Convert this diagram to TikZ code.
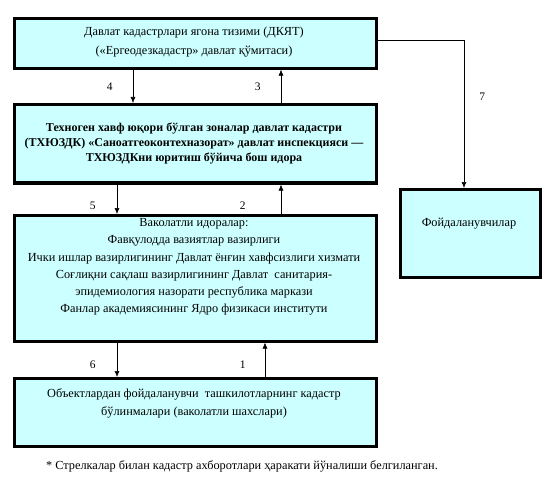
\documentclass[tikz,border=0pt]{standalone}
\usepackage{fontspec}
\setmainfont{Liberation Serif}
\usepackage{tikz}
\usetikzlibrary{arrows.meta}
\definecolor{kok}{RGB}{204,255,255}
\tikzstyle{blok} = [rectangle,draw=black,line width=2.6pt,fill=kok,inner sep=0pt,anchor=north west]
\tikzstyle{matn} = [align=center,inner sep=0pt,anchor=north,font=\fontsize{12.3}{18.5}\selectfont]
\tikzstyle{qalin} = [align=center,inner sep=0pt,anchor=north,font=\bfseries\fontsize{12}{15}\selectfont]
\tikzstyle{raqam} = [inner sep=1pt,font=\fontsize{11.5}{13}\selectfont]
\tikzstyle{strelka} = [line width=0.6pt,-{Latex[length=6pt,width=5pt]}]

\begin{document}
\begin{tikzpicture}[x=1pt,y=-1pt]
\useasboundingbox (0,0) rectangle (552,487);

\node (dkyat) [blok, minimum width=362, minimum height=50] at (13,17) {};
\node (txyuzdk) [blok, minimum width=362, minimum height=79] at (13,103) {};
\node (idora) [blok, minimum width=362, minimum height=126] at (13,214) {};
\node (obekt) [blok, minimum width=362, minimum height=68] at (13,377) {};
\node (foyda) [blok, minimum width=140, minimum height=88] at (399,188) {};
% thin inner line at the bottom of the second box
\draw[line width=0.6pt] ([yshift=3.5]txyuzdk.south west) -- ([yshift=3.5]txyuzdk.south east);

\node (dkyat-t) [matn] at (194,27) {Давлат кадастрлари ягона тизими (ДКЯТ)\\(«Ергеодезкадастр» давлат қўмитаси)};
\node (txyuzdk-t) [qalin] at (194,123) {Техноген хавф юқори бўлган зоналар давлат кадастри\\(ТХЮЗДК) «Саноатгеоконтехназорат» давлат инспекцияси —\\ТХЮЗДКни юритиш бўйича бош идора};
\node (idora-t) [matn,font=\fontsize{12.3}{17.2}\selectfont] at (194,218.5) {Ваколатли идоралар:\\Фавқулодда вазиятлар вазирлиги\\Ички ишлар вазирлигининг Давлат ёнғин хавфсизлиги хизмати\\Соғлиқни сақлаш вазирлигининг Давлат\ \ санитария-\\эпидемиология назорати республика маркази\\Фанлар академиясининг Ядро физикаси институти};
\node (obekt-t) [matn] at (194,388) {Объектлардан фойдаланувчи\ \ ташкилотларнинг кадастр\\бўлинмалари (ваколатли шахслари)};
\node (foyda-t) [matn] at (469,218) {Фойдаланувчилар};
\node (izoh) [matn] at (242,460) {* Стрелкалар билан кадастр ахборотлари ҳаракати йўналиши белгиланган.};

\draw [strelka] (dkyat.south -| 133,0) -- (txyuzdk.north -| 133,0) node[raqam,pos=0.5,left=19]{4};
\draw [strelka] (txyuzdk.north -| 281,0) -- (dkyat.south -| 281,0) node[raqam,pos=0.5,left=19]{3};
\draw [strelka] (txyuzdk.south -| 117,0) -- (idora.north -| 117,0) node[raqam,pos=0.72,left=20]{5};
\draw [strelka] (idora.north -| 281,0) -- (txyuzdk.south -| 281,0) node[raqam,pos=0.28,left=34]{2};
\draw [strelka] (idora.south -| 117,0) -- (obekt.north -| 117,0) node[raqam,pos=0.65,left=20]{6};
\draw [strelka] (obekt.north -| 265,0) -- (idora.south -| 265,0) node[raqam,pos=0.35,left=18]{1};
\draw [strelka] (dkyat.east |- 0,40) -| (464,0 |- foyda.north) node[raqam,pos=0.69,right=14]{7};

\end{tikzpicture}
\end{document}
